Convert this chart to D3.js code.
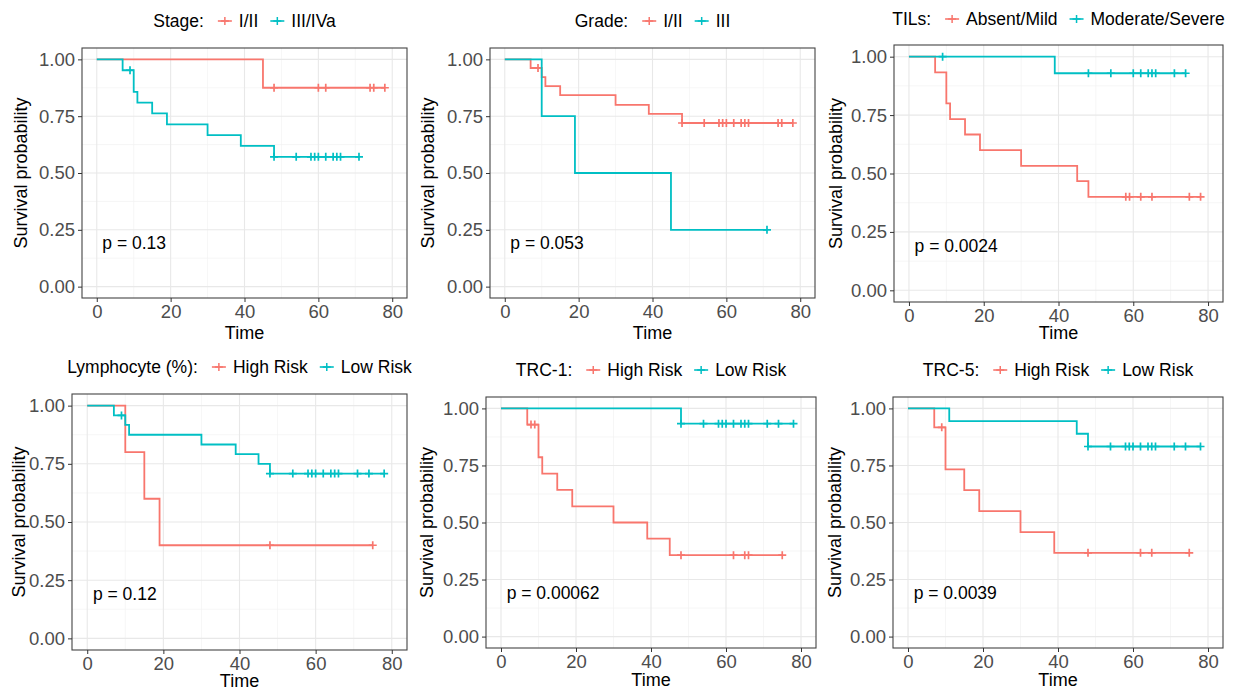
<html>
<head>
<script src="https://d3js.org/d3.v7.min.js"></script>
<style>
    html,body{
        margin: 0px;
        padding: 0px;
        background-color: #ffffff;
    }
    text {
        font-family: "Liberation Sans", Arial, sans-serif;
    }
</style>
</head>
<body>
<svg id="chart" width="1238" height="691"></svg>
<script>
// axis breaks
const timeTicks = [0, 20, 40, 60, 80];
const timeMinor = [10, 30, 50, 70];
const survTicks = [0, 0.25, 0.5, 0.75, 1];
const survMinor = [0.125, 0.375, 0.625, 0.875];

// Stage
const stageLabels = ["I/II", "III/IVa"];
const stageLow = [[0,1],[45,0.875],[78,0.875]];
const stageLowCensor = [48,60,62,74,75,78];
const stageHigh = [[0,1],[7,0.952],[10,0.857],[11,0.810],[15,0.762],[19,0.714],[30,0.667],[39,0.619],[48,0.571],[71,0.571]];
const stageHighCensor = [9,48,54,58,59,60,62,64,65,66,71];

// Grade
const gradeLabels = ["I/II", "III"];
const gradeLow = [[0,1],[7,0.962],[10,0.922],[11,0.882],[15,0.843],[30,0.80],[39,0.76],[48,0.72],[78,0.72]];
const gradeLowCensor = [9,48,54,58,59,60,62,64,65,66,74,75,78];
const gradeHigh = [[0,1],[10,0.75],[19,0.5],[45,0.25],[71,0.25]];
const gradeHighCensor = [71];

// TILs
const tilsLabels = ["Absent/Mild", "Moderate/Severe"];
const tilsAbsent = [[0,1],[7,0.933],[10,0.80],[11,0.733],[15,0.667],[19,0.60],[30,0.533],[45,0.467],[48,0.40],[78,0.40]];
const tilsAbsentCensor = [58,59,62,65,75,78];
const tilsModerate = [[0,1],[39,0.929],[74,0.929]];
const tilsModerateCensor = [9,48,54,60,62,64,65,66,71,74];

// Lymphocyte (%)
const riskLabels = ["High Risk", "Low Risk"];
const lymHigh = [[0,1],[10,0.80],[15,0.60],[19,0.40],[75,0.40]];
const lymHighCensor = [48,75];
const lymLow = [[0,1],[7,0.958],[10,0.917],[11,0.875],[30,0.833],[39,0.792],[45,0.75],[48,0.708],[78,0.708]];
const lymLowCensor = [9,48,54,58,59,60,62,64,65,66,71,74,78];

// TRC-1
const trc1High = [[0,1],[7,0.929],[10,0.786],[11,0.714],[15,0.643],[19,0.571],[30,0.50],[39,0.429],[45,0.357],[75,0.357]];
const trc1HighCensor = [8,9,48,62,65,66,75];
const trc1Low = [[0,1],[48,0.933],[78,0.933]];
const trc1LowCensor = [48,54,58,59,60,62,64,65,66,71,74,78];

// TRC-5
const trc5High = [[0,1],[7,0.917],[10,0.733],[15,0.642],[19,0.55],[30,0.458],[39,0.367],[75,0.367]];
const trc5HighCensor = [9,48,62,65,75];
const trc5Low = [[0,1],[11,0.944],[45,0.889],[48,0.833],[78,0.833]];
const trc5LowCensor = [48,54,58,59,60,62,64,65,66,71,74,78];

const colors = ["#F8766D", "#00BFC4"];

const panels = [
    {box: {l: 82, r: 407, t: 48, b: 298}, legendY: 27, yTitleOff: 55, xTitleY: 339,
     title: "Stage:", labels: stageLabels, series: [stageLow, stageHigh],
     censors: [stageLowCensor, stageHighCensor], p: "p = 0.13"},
    {box: {l: 490, r: 815, t: 48, b: 298}, legendY: 27, yTitleOff: 56, xTitleY: 339,
     title: "Grade:", labels: gradeLabels, series: [gradeLow, gradeHigh],
     censors: [gradeLowCensor, gradeHighCensor], p: "p = 0.053"},
    {box: {l: 894, r: 1223, t: 45, b: 302}, legendY: 25, yTitleOff: 52, xTitleY: 339,
     title: "TILs:", labels: tilsLabels, series: [tilsAbsent, tilsModerate],
     censors: [tilsAbsentCensor, tilsModerateCensor], p: "p = 0.0024"},
    {box: {l: 72, r: 407, t: 394, b: 650}, legendY: 373, yTitleOff: 47, xTitleY: 687,
     title: "Lymphocyte (%):", labels: riskLabels, series: [lymHigh, lymLow],
     censors: [lymHighCensor, lymLowCensor], p: "p = 0.12"},
    {box: {l: 486, r: 816, t: 397, b: 648}, legendY: 376, yTitleOff: 53, xTitleY: 686,
     title: "TRC-1:", labels: riskLabels, series: [trc1High, trc1Low],
     censors: [trc1HighCensor, trc1LowCensor], p: "p = 0.00062"},
    {box: {l: 893, r: 1223, t: 397, b: 648}, legendY: 376, yTitleOff: 52, xTitleY: 686,
     title: "TRC-5:", labels: riskLabels, series: [trc5High, trc5Low],
     censors: [trc5HighCensor, trc5LowCensor], p: "p = 0.0039"}
];

const svg = d3.select("#chart");

function survAt(steps, t) {
    let s = 1;
    steps.forEach(function(d) { if (d[0] <= t) s = d[1]; });
    return s;
}

function plusPath(cx, cy, h) {
    return "M" + (cx - h) + "," + cy + "h" + (2 * h) + "M" + cx + "," + (cy - h) + "v" + (2 * h);
}

function drawPanel(p) {
    const b = p.box;
    const x = d3.scaleLinear().domain([-4, 84]).range([b.l, b.r]);
    const y = d3.scaleLinear().domain([-0.05, 1.05]).range([b.b, b.t]);
    const g = svg.append("g");

    // grid
    g.selectAll(".gxm").data(timeMinor).enter().append("line")
        .attr("x1", d => x(d)).attr("x2", d => x(d)).attr("y1", b.t).attr("y2", b.b)
        .attr("stroke", "#f2f2f2").attr("stroke-width", 0.7);
    g.selectAll(".gym").data(survMinor).enter().append("line")
        .attr("y1", d => y(d)).attr("y2", d => y(d)).attr("x1", b.l).attr("x2", b.r)
        .attr("stroke", "#f2f2f2").attr("stroke-width", 0.7);
    g.selectAll(".gx").data(timeTicks).enter().append("line")
        .attr("x1", d => x(d)).attr("x2", d => x(d)).attr("y1", b.t).attr("y2", b.b)
        .attr("stroke", "#e8e8e8").attr("stroke-width", 1.1);
    g.selectAll(".gy").data(survTicks).enter().append("line")
        .attr("y1", d => y(d)).attr("y2", d => y(d)).attr("x1", b.l).attr("x2", b.r)
        .attr("stroke", "#e8e8e8").attr("stroke-width", 1.1);

    // curves
    const line = d3.line().curve(d3.curveStepAfter)
        .x(d => x(d[0])).y(d => y(d[1]));
    p.series.forEach(function(s, i) {
        g.append("path").datum(s)
            .attr("fill", "none")
            .attr("stroke", colors[i])
            .attr("stroke-width", 1.8)
            .attr("d", line);
        g.append("path")
            .attr("fill", "none")
            .attr("stroke", colors[i])
            .attr("stroke-width", 1.7)
            .attr("d", p.censors[i].map(t => plusPath(x(t), y(survAt(s, t)), 4)).join(""));
    });

    // border
    g.append("rect")
        .attr("x", b.l).attr("y", b.t)
        .attr("width", b.r - b.l).attr("height", b.b - b.t)
        .attr("fill", "none").attr("stroke", "#444").attr("stroke-width", 1.1);

    // axes
    const ax = g.append("g")
        .attr("transform", "translate(0," + b.b + ")")
        .call(d3.axisBottom(x).tickValues(timeTicks).tickSize(4).tickPadding(3));
    const ay = g.append("g")
        .attr("transform", "translate(" + b.l + ",0)")
        .call(d3.axisLeft(y).tickValues(survTicks).tickFormat(d3.format(".2f")).tickSize(4).tickPadding(3));
    [ax, ay].forEach(function(a) {
        a.select(".domain").remove();
        a.selectAll(".tick line").attr("stroke", "#333");
        a.selectAll(".tick text")
            .attr("fill", "#4d4d4d")
            .attr("font-size", 18.5)
            .attr("font-family", '"Liberation Sans", Arial, sans-serif');
    });

    // titles
    g.append("text")
        .attr("x", (b.l + b.r) / 2).attr("y", p.xTitleY)
        .attr("text-anchor", "middle").attr("font-size", 18)
        .text("Time");
    g.append("text")
        .attr("transform", "translate(" + (b.l - p.yTitleOff) + "," + ((b.t + b.b) / 2) + ") rotate(-90)")
        .attr("text-anchor", "middle").attr("font-size", 18)
        .text("Survival probability");

    // p-value
    g.append("text")
        .attr("x", x(1.5)).attr("y", y(0.165))
        .attr("font-size", 17.5)
        .text(p.p);

    // legend
    const lg = svg.append("g");
    let cx = 0;
    const t0 = lg.append("text").attr("x", cx).attr("y", 0).attr("font-size", 17.5).text(p.title);
    cx += t0.node().getComputedTextLength() + 14;
    p.labels.forEach(function(lab, i) {
        lg.append("line")
            .attr("x1", cx).attr("x2", cx + 14).attr("y1", -6).attr("y2", -6)
            .attr("stroke", colors[i]).attr("stroke-width", 1.6);
        lg.append("path")
            .attr("d", plusPath(cx + 7, -6, 4))
            .attr("stroke", colors[i]).attr("stroke-width", 1.5);
        cx += 14 + 7;
        const t = lg.append("text").attr("x", cx).attr("y", 0).attr("font-size", 17.5).text(lab);
        cx += t.node().getComputedTextLength();
        if (i < p.labels.length - 1) cx += 12;
    });
    lg.attr("transform", "translate(" + ((b.l + b.r) / 2 - cx / 2) + "," + p.legendY + ")");
}

panels.forEach(drawPanel);
</script>
</body>
</html>
